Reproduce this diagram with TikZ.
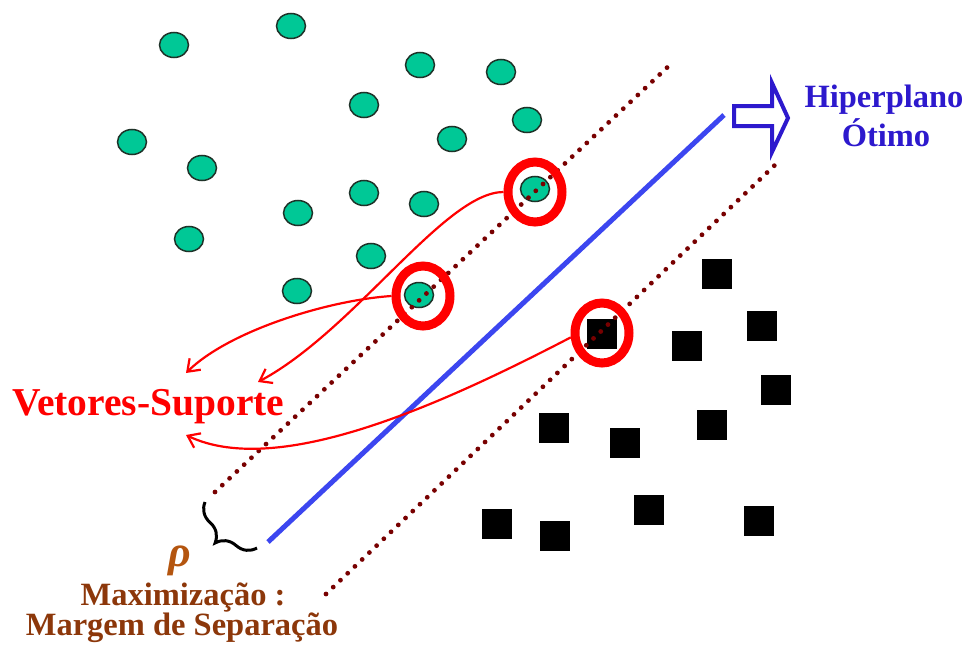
\documentclass[tikz,border=0pt]{standalone}
\usepackage{fontspec}
\setmainfont{Liberation Serif}
\usetikzlibrary{shapes.geometric,arrows.meta,decorations.pathreplacing}

\definecolor{dotgreen}{RGB}{0,200,150}
\definecolor{dotedge}{RGB}{30,50,40}
\definecolor{marginred}{RGB}{120,0,0}
\definecolor{planeblue}{RGB}{60,70,240}
\definecolor{labelblue}{RGB}{45,25,205}
\definecolor{svred}{RGB}{255,0,0}
\definecolor{brownlabel}{RGB}{140,55,10}
\definecolor{rhocolor}{RGB}{180,85,15}

\begin{document}
\begin{tikzpicture}[x=1pt,y=-1pt,
  classA/.style={ellipse, draw=dotedge, line width=1.5pt, fill=dotgreen,
                 minimum width=29pt, minimum height=25pt, inner sep=0pt},
  classB/.style={rectangle, fill=black, minimum size=30pt, inner sep=0pt},
  svring/.style={ellipse, draw=svred, line width=9pt,
                 minimum width=54pt, minimum height=60pt, inner sep=0pt},
  margin/.style={draw=marginred, line width=4.8pt, line cap=round,
                 dash pattern=on 0pt off 10pt},
  plane/.style={draw=planeblue, line width=5pt},
  pointer/.style={draw=svred, line width=2.2pt,
                  -{Straight Barb[length=11pt,width=16pt]}},
  lbl/.style={inner sep=0pt, font=\bfseries\fontsize{32.5}{36}\selectfont},
]
\useasboundingbox (0,0) rectangle (967,653);

% class A samples (green)
\node[classA] (a1)  at (174,45)  {};
\node[classA] (a2)  at (291,26)  {};
\node[classA] (a3)  at (420,65)  {};
\node[classA] (a4)  at (501,72)  {};
\node[classA] (a5)  at (364,105) {};
\node[classA] (a6)  at (527,120) {};
\node[classA] (a7)  at (452,139) {};
\node[classA] (a8)  at (132,142) {};
\node[classA] (a9)  at (202,168) {};
\node[classA] (a10) at (364,193) {};
\node[classA] (a11) at (424,204) {};
\node[classA] (a12) at (298,213) {};
\node[classA] (a13) at (189,239) {};
\node[classA] (a14) at (371,256) {};
\node[classA] (a15) at (297,291) {};
\node[classA] (sa1) at (535,189) {};
\node[classA] (sa2) at (419,295) {};

% class B samples (black)
\node[classB] (b1)  at (717,274) {};
\node[classB] (b2)  at (762,326) {};
\node[classB] (b3)  at (687,346) {};
\node[classB] (b4)  at (776,390) {};
\node[classB] (b5)  at (712,425) {};
\node[classB] (b6)  at (554,428) {};
\node[classB] (b7)  at (625,443) {};
\node[classB] (b8)  at (649,510) {};
\node[classB] (b9)  at (497,524) {};
\node[classB] (b10) at (555,536) {};
\node[classB] (b11) at (759,521) {};
\node[classB] (sb1) at (602,334) {};

% margin boundaries and optimal hyperplane
\coordinate (m1s) at (215,492);
\coordinate (m1e) at (673,62);
\coordinate (m2s) at (326,594);
\coordinate (m2e) at (775,165);
\coordinate (hs) at (268,542);
\coordinate (he) at (724,115);
\draw[margin] (m1s) -- (m1e);
\draw[margin] (m2s) -- (m2e);

% support-vector rings
\node[svring] (c1) at (535,192) {};
\node[svring] (c2) at (423,296) {};
\node[svring] (c3) at (602,333) {};

\draw[plane] (hs) -- (he);

% hollow arrow pointing at the hyperplane label
\draw[labelblue, line width=4pt, line join=miter, fill=white]
  (734,106) -- (772,106) -- (772,83) -- (788,118) -- (772,152)
  -- (772,126) -- (734,126) -- cycle;

% labels
\node[lbl, text=labelblue, anchor=base] (hp1) at (884,107) {Hiperplano};
\node[lbl, text=labelblue, anchor=base] (hp2) at (886,146) {Ótimo};
\node[inner sep=0pt, text=svred, anchor=base west,
      font=\bfseries\fontsize{39.5}{42}\selectfont] (sv) at (12,415) {Vetores-Suporte};
\node[lbl, text=brownlabel, anchor=base] (mx1) at (183,605) {Maximização :};
\node[lbl, text=brownlabel, anchor=base] (mx2) at (182,635) {Margem de Separação};
\node[inner sep=0pt, text=rhocolor, anchor=base,
      font=\bfseries\itshape\fontsize{44}{48}\selectfont] (rho) at (180,566) {ρ};

% margin width brace
\coordinate (br1) at (257,548);
\coordinate (br2) at (205,502);
\draw[decorate, decoration={brace, amplitude=24pt}, line width=3pt] (br1) -- (br2);

% pointers from the support vectors to their label
\coordinate (tA) at (258,382);
\coordinate (tB) at (186,373);
\coordinate (tC) at (186,435);
\draw[pointer] (c1.west) .. controls (445,192) and (355,330) .. (tA);
\draw[pointer] (c2.west) .. controls (330,300) and (230,330) .. (tB);
\draw[pointer] (c3.188) .. controls (450,400) and (280,480) .. (tC);
\end{tikzpicture}
\end{document}
